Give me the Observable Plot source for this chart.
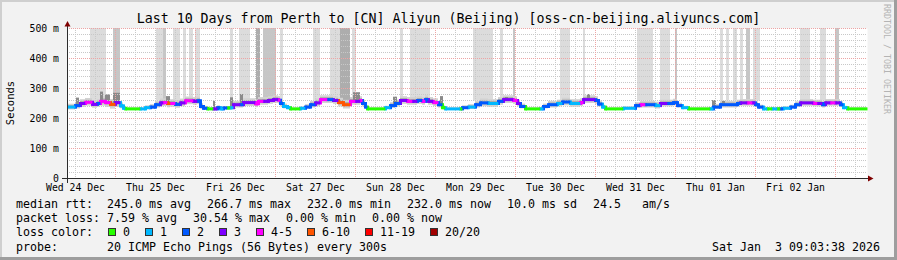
<!DOCTYPE html>
<html><head><meta charset="utf-8">
<script src="https://cdn.jsdelivr.net/npm/d3@7"></script>
<script src="https://cdn.jsdelivr.net/npm/@observablehq/plot@0.6"></script>
<style>
html,body{margin:0;padding:0;background:#fff;}
#wrap{position:relative;width:897px;height:260px;background:#f2f2f2;overflow:hidden;font-family:"DejaVu Sans Mono",monospace;color:#000;}
.abs{position:absolute;white-space:pre;}
#title{left:0;width:897px;top:11px;text-align:center;font-size:13.29px;line-height:16px;}
#ylab{left:10px;top:103px;font-size:10.5px;line-height:12px;transform:translate(-50%,-50%) rotate(-90deg);}
#rrd{left:882px;top:4px;writing-mode:vertical-rl;font-size:8.3px;color:#b4b4b4;line-height:10px;}
.row{position:absolute;left:16px;font-size:11.63px;line-height:14px;height:14px;display:flex;white-space:pre;align-items:center;}
.row .k{width:91px;}
.gap16{display:flex;gap:16px;}
.leg{display:flex;gap:15px;align-items:center;}
.leg .it{display:flex;align-items:center;}
.leg .sq{width:6px;height:6px;border:1px solid #333;margin-right:7px;}
#date{right:17px;top:240px;font-size:11.63px;line-height:14px;}
#plotbox{position:absolute;left:0;top:0;}
.bt{position:absolute;left:0;top:0;width:897px;height:2px;background:#cfcfcf;}
.bl{position:absolute;left:0;top:0;width:2px;height:260px;background:#cfcfcf;}
.bb{position:absolute;left:0;bottom:0;width:897px;height:3px;background:#9e9e9e;}
.br{position:absolute;right:0;top:0;width:3px;height:260px;background:#9e9e9e;}
</style>
</head><body>
<div id="wrap">
  <div class="bt"></div><div class="bl"></div><div class="bb"></div><div class="br"></div>
  <div id="plotbox"></div>
  <div id="title" class="abs"></div>
  <div id="ylab" class="abs">Seconds</div>
  <div id="rrd" class="abs">RRDTOOL / TOBI OETIKER</div>
  <div class="row" id="r1" style="top:197px"></div>
  <div class="row" id="r2" style="top:211px"></div>
  <div class="row" id="r3" style="top:225px"></div>
  <div class="row" id="r4" style="top:240px"></div>
  <div id="date" class="abs"></div>
</div>
<script>
// ---------- data ----------
const titleText = "Last 10 Days from Perth to [CN] Aliyun (Beijing) [oss-cn-beijing.aliyuncs.com]";
const xDomain = [9.6, 249.6]; // hours since Wed 24 Dec 00:00
const dayLabelHours = [12, 36, 60, 84, 108, 132, 156, 180, 204, 228];
const dayLabels = ["Wed 24 Dec","Thu 25 Dec","Fri 26 Dec","Sat 27 Dec","Sun 28 Dec","Mon 29 Dec","Tue 30 Dec","Wed 31 Dec","Thu 01 Jan","Fri 02 Jan"];
const yTicks = [0, 100, 200, 300, 400, 500];
const yLabels = ["0", "100 m", "200 m", "300 m", "400 m", "500 m"];

const lossLabels = ["0","1","2","3","4-5","6-10","11-19","20/20"];
const lossColors = ["#26ff00","#00b8ff","#0059ff","#7e00ff","#ff00ff","#ff5500","#ff0000","#a10000"];

// median rtt (ms) as steps: start hour, value, loss class, smoke half-spread
const segHour = [
  9.6,12.0,13.5,15.0,17.1,18.6,19.5,21.0,22.5,24.0,
  25.5,26.4,27.0,31.5,33.0,34.5,36.0,37.5,38.4,39.6,
  40.5,42.0,43.5,45.0,47.4,48.6,49.5,50.4,51.6,53.4,
  54.6,55.5,56.4,57.6,58.5,59.4,61.5,62.4,66.0,66.9,
  68.4,69.9,71.4,72.9,73.5,74.4,75.6,76.5,79.5,81.0,
  82.5,84.0,85.5,87.6,89.4,90.9,92.4,94.5,96.0,97.5,
  98.1,99.0,99.6,105.0,106.5,108.0,109.5,111.6,113.1,114.6,
  116.1,117.0,117.9,119.4,120.9,122.1,123.0,127.5,128.1,129.9,
  132.0,133.5,135.9,138.9,140.4,143.4,144.6,145.5,147.0,151.5,
  152.4,153.9,156.6,158.1,160.5,163.5,164.4,168.0,168.9,170.1,
  171.0,176.4,180.0,181.5,183.0,186.0,187.5,189.6,191.4,192.6,
  194.1,195.9,202.5,203.4,205.5,210.6,211.5,213.6,215.1,216.0,
  216.9,218.4,219.6,221.1,222.6,223.5,224.4,226.5,228.0,229.5,
  233.4,234.6,236.1,237.0,238.5,240.0,241.5,242.4,243.6];
const segMs = [
  238,243,250,254,247,250,257,253,247,253,
  242,234,232,232,236,238,246,252,253,250,
  250,247,252,259,257,259,240,234,232,232,
  236,232,235,235,236,246,246,253,249,257,
  257,260,263,261,250,240,236,232,234,238,
  246,252,263,263,260,253,246,257,257,260,
  250,238,232,236,243,250,260,257,257,260,
  257,263,257,253,246,236,232,232,236,238,
  246,252,250,257,263,260,250,240,232,232,
  240,246,250,255,250,253,263,260,248,238,
  232,234,243,246,246,243,250,250,253,243,
  236,232,232,238,246,250,252,252,252,246,
  238,232,232,232,232,232,234,238,246,252,
  250,250,246,252,252,252,246,236,232];
const segLoss = [
  1,2,3,4,3,2,4,4,5,3,
  1,1,0,1,1,2,2,3,4,5,
  4,2,3,4,3,2,2,2,0,3,
  2,1,2,0,1,3,2,3,4,4,
  3,3,3,4,2,1,1,0,1,2,
  2,3,4,2,3,5,5,4,3,4,
  2,2,0,1,2,2,3,4,3,2,
  4,2,3,4,2,0,1,0,2,1,
  2,2,1,2,3,4,3,2,0,1,
  2,2,1,2,1,4,3,2,2,1,
  0,1,2,4,2,1,3,2,2,2,
  1,0,1,2,2,2,3,4,3,2,
  2,1,0,1,0,2,1,2,2,3,
  4,3,2,3,4,3,2,1,0];
const segSmoke = [
  6,7,8,8,8,8,10,10,10,10,
  6,3,2,2,4,5,7,8,8,9,
  8,8,8,8,8,8,6,4,2,4,
  4,3,3,3,4,7,7,8,8,8,
  8,8,8,8,7,5,3,2,3,5,
  7,8,8,8,8,9,9,8,8,8,
  7,4,2,3,6,7,8,8,8,8,
  8,8,8,8,7,4,2,2,4,5,
  7,8,8,8,8,8,7,5,2,2,
  5,7,7,8,8,8,8,8,6,4,
  2,3,6,7,7,7,7,7,7,5,
  3,2,2,5,7,7,7,7,7,6,
  4,2,2,2,2,2,3,4,6,7,
  7,7,7,7,7,7,6,3,2];

// tall smoke bars reaching the top of the graph (hours, shade 0 light .. 2 dark)
const barStart = [16.5,23.4,36.3,38.4,41.4,44.4,46.2,48.0,58.5,61.2,66.3,68.4,73.5,83.4,88.5,91.5,95.1,109.5,112.5,131.4,139.5,143.4,157.5,164.4,180.6,187.5,192.0,205.5,207.3,209.4,211.5,213.3,215.4,229.5,235.5,240.0];
const barEnd   = [21.3,25.5,38.4,39.3,43.5,45.3,47.4,49.5,59.4,64.5,67.5,72.3,74.4,85.5,91.5,94.5,96.3,110.4,118.5,137.4,140.4,144.0,160.5,165.0,185.4,190.5,192.6,206.4,208.2,210.6,212.4,214.5,217.5,232.5,237.3,241.2];
const barShade = [0,1,0,1,0,0,0,0,0,0,2,1,0,0,0,2,0,0,0,0,0,1,0,0,0,0,1,0,0,0,0,1,0,0,0,1];
const barBase = 258;
const shadeColors = ["#dcdcdc","#c6c6c6","#adadad"];

// darker smoke spikes above the median
const spikeStart = [12.3,19.5,21.0,23.4,39.3,53.4,58.5,61.5,95.4,107.4,121.5,141.0,165.6,203.1,206.1];
const spikeEnd   = [13.2,20.4,22.5,25.5,40.5,54.0,59.4,62.4,97.5,108.6,122.4,141.9,166.5,204.3,207.0];
const spikeTop   = [268,288,279,284,273,257,269,280,286,271,273,270,280,260,257];

const statsRtt = ["245.0 ms avg","266.7 ms max","232.0 ms min","232.0 ms now","10.0 ms sd","24.5   am/s"];
const statsLoss = ["7.59 % avg","30.54 % max","0.00 % min","0.00 % now"];
const probeText = "20 ICMP Echo Pings (56 Bytes) every 300s";
const dateText = "Sat Jan  3 09:03:38 2026";

// ---------- build ----------
const segs = segHour.map((h, i) => ({
  h, h2: i + 1 < segHour.length ? segHour[i + 1] : xDomain[1],
  v: segMs[i], loss: segLoss[i], s: segSmoke[i],
  next: i + 1 < segHour.length ? segMs[i + 1] : null,
  nextLoss: i + 1 < segHour.length ? segLoss[i + 1] : null
}));
const conns = segs.filter(d => d.next !== null);
const bars = barStart.map((a, i) => ({a, b: barEnd[i], shade: barShade[i]}));
const valueAt = h => segMs[Math.max(0, d3.bisectRight(segHour, h) - 1)];
const spikes = spikeStart.map((a, i) => ({a, b: spikeEnd[i], top: spikeTop[i], base: valueAt(a)}));

const minorX = d3.range(6, 250, 6).filter(h => h % 24 !== 0 && h > xDomain[0]);
const majorX = d3.range(24, 250, 24);
const minorY = d3.range(20, 500, 20).filter(v => v % 100 !== 0);
const majorY = [100, 200, 300, 400, 500];

const plot = Plot.plot({
  width: 897, height: 200,
  marginLeft: 67, marginRight: 30, marginTop: 28, marginBottom: 22,
  x: {domain: xDomain},
  y: {domain: [0, 500]},
  style: {background: "transparent", fontFamily: "DejaVu Sans Mono", color: "#000", overflow: "visible"},
  marks: [
    Plot.frame({fill: "white", stroke: null}),
    Plot.rect(bars, {x1: "a", x2: "b", y1: barBase, y2: 500, fill: d => shadeColors[d.shade]}),
    Plot.rect(segs, {x1: "h", x2: "h2", y1: d => d.v - d.s * 1.6, y2: d => d.v + d.s * 1.6, fill: "#d2d2d2"}),
    Plot.rect(segs, {x1: "h", x2: "h2", y1: d => d.v - d.s * 0.8, y2: d => d.v + d.s * 0.8, fill: "#a9a9a9"}),
    Plot.rect(spikes, {x1: "a", x2: "b", y1: "base", y2: "top", fill: "#8a8a8a"}),
    Plot.ruleY(minorY, {stroke: "#c8c8c8", strokeDasharray: "1,1"}),
    Plot.ruleX(minorX, {stroke: "#c8c8c8", strokeDasharray: "1,1"}),
    Plot.ruleY(majorY, {stroke: "#eda4a4", strokeDasharray: "1,1"}),
    Plot.ruleX(majorX, {stroke: "#eda4a4", strokeDasharray: "1,1"}),
    Plot.link(conns, {x1: "h2", x2: "h2", y1: "v", y2: "next", stroke: d => lossColors[d.nextLoss], strokeWidth: 3, strokeLinecap: "square"}),
    Plot.link(segs, {x1: "h", x2: "h2", y1: "v", y2: "v", stroke: d => lossColors[d.loss], strokeWidth: 3}),
    Plot.axisX(dayLabelHours, {tickFormat: (d, i) => dayLabels[i], tickSize: 0, tickPadding: 5.5, fontSize: 9.8, label: null}),
    Plot.axisY(yTicks, {tickFormat: (d, i) => yLabels[i], tickSize: 0, tickPadding: 8.5, fontSize: 9.8, label: null})
  ]
});

// axes with arrows (from scale ranges)
const svg = d3.select(plot);
const [xa, xb] = plot.scale("x").range;
const [ya, yb] = plot.scale("y").range;
svg.append("line").attr("x1", xa - 5).attr("x2", xb + 1).attr("y1", ya + 0.5).attr("y2", ya + 0.5)
  .attr("stroke", "#2c2c2c").attr("stroke-width", 1);
svg.append("line").attr("x1", xa + 0.5).attr("x2", xa + 0.5).attr("y1", ya + 5).attr("y2", yb - 2)
  .attr("stroke", "#2c2c2c").attr("stroke-width", 1);
svg.append("path").attr("d", `M${xb + 1},${ya - 2.5}L${xb + 6.5},${ya + 0.5}L${xb + 1},${ya + 3.5}Z`).attr("fill", "#7f0000");
svg.append("path").attr("d", `M${xa - 2.5},${yb - 1.5}L${xa + 0.5},${yb - 7}L${xa + 3.5},${yb - 1.5}Z`).attr("fill", "#7f0000");
document.getElementById("plotbox").appendChild(plot);

// texts
document.getElementById("title").textContent = titleText;
document.getElementById("date").textContent = dateText;
function fill(id, key, items, cls) {
  const row = document.getElementById(id);
  const k = document.createElement("span"); k.className = "k"; k.textContent = key; row.appendChild(k);
  const g = document.createElement("span"); g.className = cls; row.appendChild(g);
  return g;
}
let g1 = fill("r1", "median rtt:", null, "gap16");
statsRtt.forEach(t => { const s = document.createElement("span"); s.textContent = t; g1.appendChild(s); });
let g2 = fill("r2", "packet loss:", null, "gap16");
statsLoss.forEach(t => { const s = document.createElement("span"); s.textContent = t; g2.appendChild(s); });
let g3 = fill("r3", "loss color:", null, "leg");
const r3 = document.getElementById("r3");
r3.querySelector(".k").style.width = "92px";
lossLabels.forEach((t, i) => {
  const it = document.createElement("span"); it.className = "it";
  const sq = document.createElement("span"); sq.className = "sq"; sq.style.background = lossColors[i];
  const lb = document.createElement("span"); lb.textContent = t;
  it.appendChild(sq); it.appendChild(lb); g3.appendChild(it);
});
let g4 = fill("r4", "probe:", null, "gap16");
const p = document.createElement("span"); p.textContent = probeText; g4.appendChild(p);
</script>
</body></html>
